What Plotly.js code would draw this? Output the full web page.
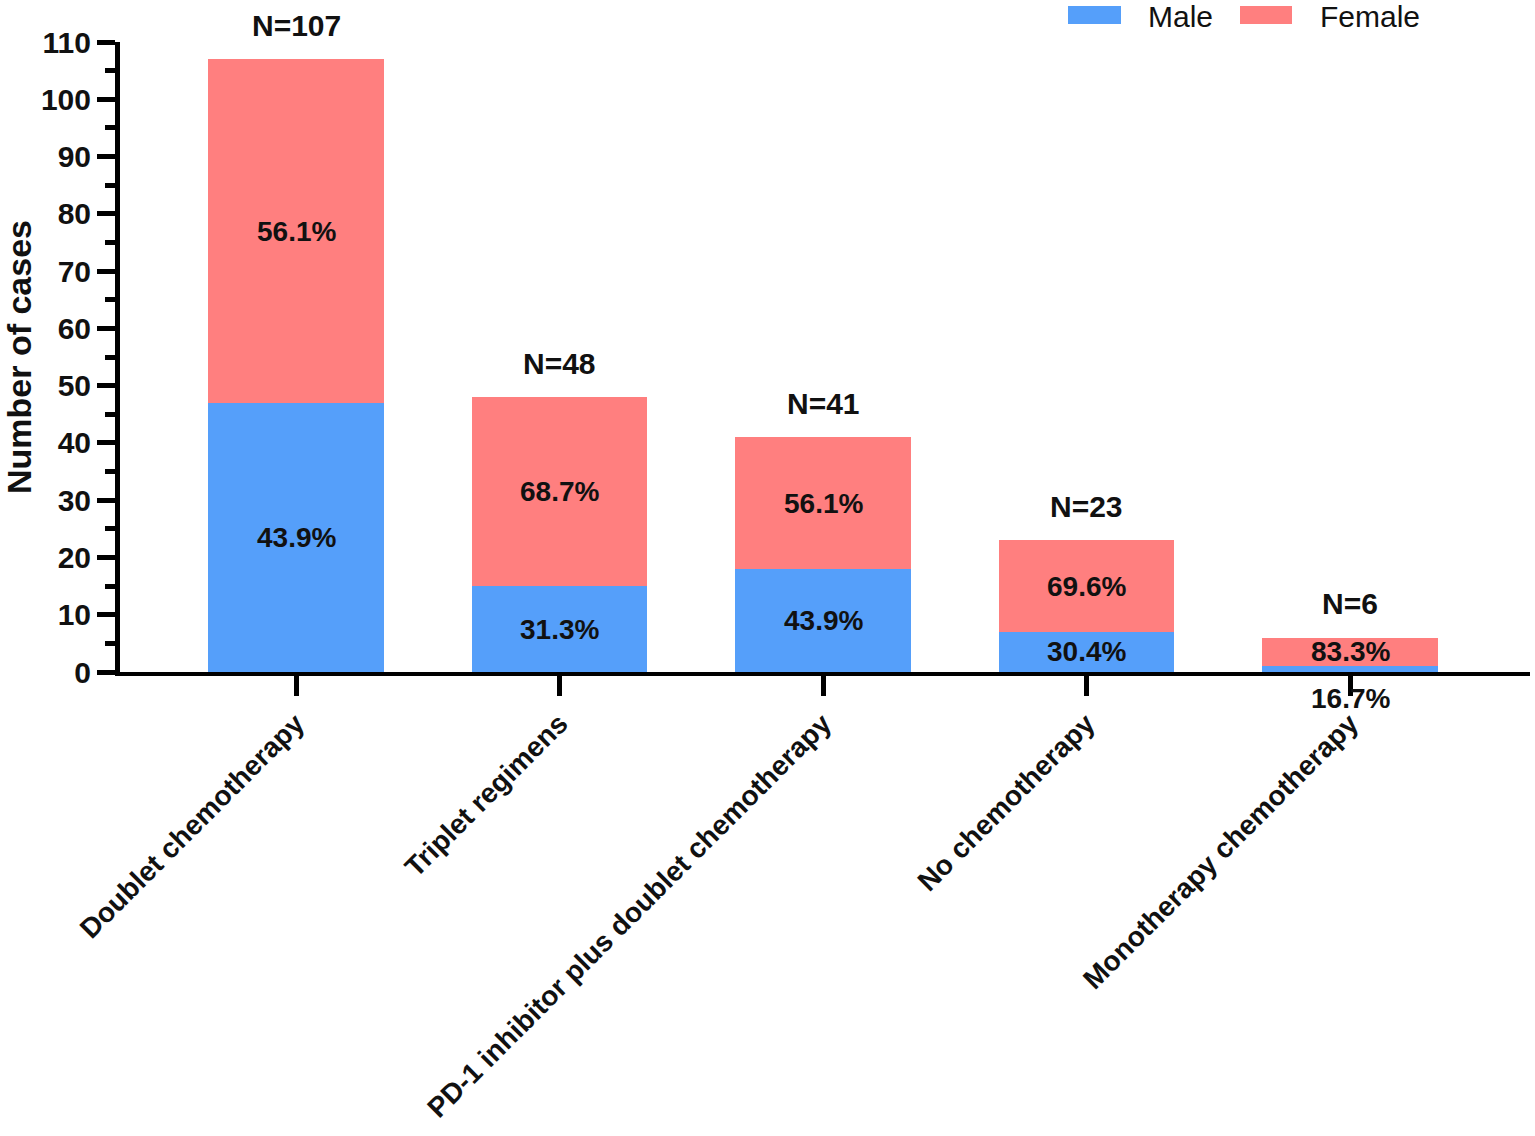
<!DOCTYPE html>
<html>
<head>
<meta charset="utf-8">
<script src="https://cdn.plot.ly/plotly-3.0.1.min.js"></script>
<style>
  html, body { margin: 0; padding: 0; background: #fff; }
  #chart { width: 1535px; height: 1136px; }
</style>
</head>
<body>
<div id="chart"></div>
<script>
// values
const categories = [
  'Doublet chemotherapy',
  'Triplet regimens',
  'PD-1 inhibitor plus doublet chemotherapy',
  'No chemotherapy',
  'Monotherapy chemotherapy'
];
const male = [47, 15, 18, 7, 1];
const female = [60, 33, 23, 16, 5];
const malePct = ['43.9%', '31.3%', '43.9%', '30.4%', '16.7%'];
const femalePct = ['56.1%', '68.7%', '56.1%', '69.6%', '83.3%'];
const totalLabels = ['N=107', 'N=48', 'N=41', 'N=23', 'N=6'];

const BLUE = '#559ffa';
const RED = '#ff7f7f';
const FONT = 'Arial, "Liberation Sans", sans-serif';

const traceMale = {
  type: 'bar', name: 'Male', x: categories, y: male,
  marker: { color: BLUE, line: { width: 0 } },
  hoverinfo: 'x+y+name'
};
const traceFemale = {
  type: 'bar', name: 'Female', x: categories, y: female,
  marker: { color: RED, line: { width: 0 } },
  hoverinfo: 'x+y+name'
};

const annotations = [];
categories.forEach((c, i) => {
  const total = male[i] + female[i];
  annotations.push({
    x: c, y: total, xref: 'x', yref: 'y', text: totalLabels[i],
    showarrow: false, yanchor: 'middle', yshift: 34,
    font: { family: FONT, size: 30, weight: 'bold', color: '#111' }
  });
  annotations.push({
    x: c, y: male[i] + female[i] / 2, xref: 'x', yref: 'y', text: femalePct[i],
    showarrow: false, yanchor: 'middle',
    font: { family: FONT, size: 28, weight: 'bold', color: '#111' }
  });
  // tiny segments get their label under the axis
  const small = male[i] < 3;
  annotations.push({
    x: c, y: small ? 0 : male[i] / 2, xref: 'x', yref: 'y', text: malePct[i],
    showarrow: false, yanchor: 'middle', yshift: small ? -26 : 0,
    font: { family: FONT, size: 28, weight: 'bold', color: '#111' }
  });
});

// custom legend with wide swatches
const legendItems = [
  { name: 'Male', color: BLUE, x0: 1068, x1: 1121, tx: 1146 },
  { name: 'Female', color: RED, x0: 1240, x1: 1292, tx: 1318 }
];
const L = 120, W = 1410, T = 42, H = 630;
const shapes = [];
legendItems.forEach(it => {
  shapes.push({
    type: 'rect', xref: 'paper', yref: 'paper',
    x0: (it.x0 - L) / W, x1: (it.x1 - L) / W,
    y0: (T + H - 24) / H, y1: (T + H - 6) / H,
    fillcolor: it.color, line: { width: 0 }
  });
  annotations.push({
    xref: 'paper', yref: 'paper', x: (it.tx - L) / W, y: (T + H - 17) / H,
    xanchor: 'left', yanchor: 'middle', showarrow: false, text: it.name,
    font: { family: FONT, size: 30, color: '#111' }
  });
});

const layout = {
  width: 1535, height: 1136,
  margin: { l: L, r: 5, t: T, b: 464 },
  paper_bgcolor: '#fff', plot_bgcolor: '#fff',
  barmode: 'stack', bargap: 0.333,
  showlegend: false,
  font: { family: FONT, color: '#111' },
  xaxis: {
    range: [-0.668, 4.683],
    showline: true, linecolor: '#000', linewidth: 4,
    ticks: 'outside', ticklen: 20, tickwidth: 5, tickcolor: '#000',
    tickangle: -45,
    tickfont: { family: FONT, size: 28, weight: 'bold', color: '#111' },
    showgrid: false, zeroline: false, fixedrange: true
  },
  yaxis: {
    range: [0, 110],
    dtick: 10, tick0: 0,
    showline: true, linecolor: '#000', linewidth: 5,
    ticks: 'outside', ticklen: 18, tickwidth: 5, tickcolor: '#000',
    minor: { dtick: 5, ticks: 'outside', ticklen: 10, tickwidth: 5, tickcolor: '#000', showgrid: false },
    tickfont: { family: FONT, size: 30, weight: 'bold', color: '#111' },
    title: { text: 'Number of cases', standoff: 12, font: { family: FONT, size: 34, weight: 'bold', color: '#111' } },
    showgrid: false, zeroline: false, fixedrange: true
  },
  annotations: annotations,
  shapes: shapes
};

Plotly.newPlot('chart', [traceMale, traceFemale], layout, { displayModeBar: false, staticPlot: true });
</script>
</body>
</html>
